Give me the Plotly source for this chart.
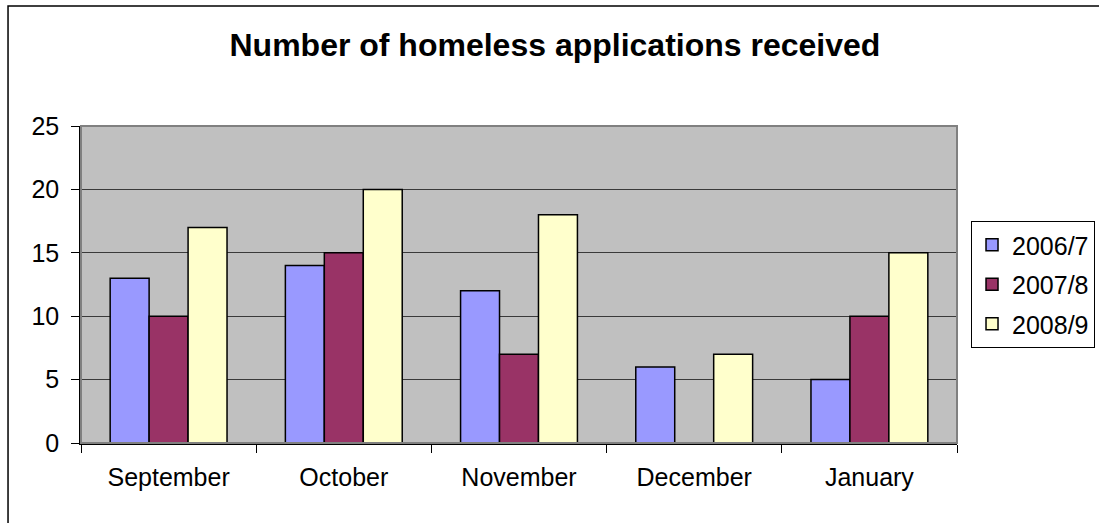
import plotly.graph_objects as go

months = ["September", "October", "November", "December", "January"]
series_names = ["2006/7", "2007/8", "2008/9"]
values_2006_7 = [13, 14, 12, 6, 5]
values_2007_8 = [10, 15, 7, 0, 10]
values_2008_9 = [17, 20, 18, 7, 15]
colors = ["#9999FF", "#993366", "#FFFFCC"]
y_ticks = [0, 5, 10, 15, 20, 25]

FONT = "Liberation Sans, Arial, sans-serif"

fig = go.Figure()
for name, vals, col in zip(series_names, [values_2006_7, values_2007_8, values_2008_9], colors):
    fig.add_trace(go.Bar(
        x=months, y=vals, name=name, legendgroup=name,
        marker=dict(color=col, line=dict(color="black", width=1.5)),
    ))

fig.update_layout(
    width=1099, height=523,
    margin=dict(l=81, r=142, t=126, b=80, autoexpand=False),
    paper_bgcolor="white",
    plot_bgcolor="#C0C0C0",
    barmode="group", bargap=0.333, bargroupgap=0,
    font=dict(family=FONT, size=25, color="black"),
    title=dict(text="<b>Number of homeless applications received</b>",
               font=dict(family=FONT, size=32, color="black"),
               x=0.541, xref="paper", xanchor="center",
               y=0.915, yref="container", yanchor="middle"),
    legend=dict(x=1.016, y=0.70, xanchor="left", yanchor="top",
                bordercolor="black", borderwidth=1, bgcolor="white",
                font=dict(family=FONT, size=25), tracegroupgap=4,
                itemclick=False),
    showlegend=True,
)
fig.update_xaxes(
    showline=True, linecolor="black", linewidth=1.5,
    ticks="outside", tickson="boundaries", ticklen=8, tickcolor="black",
    ticklabelstandoff=11, showgrid=False,
)
fig.update_yaxes(
    range=[0, 25], tickvals=y_ticks, showline=True, linecolor="black", linewidth=1.5,
    ticks="outside", ticklen=8, tickcolor="black",
    showgrid=True, gridcolor="#3a3a3a", gridwidth=1, zeroline=False,
    ticklabelstandoff=7,
)
# plot-area border (gray) and outer chart frame
fig.add_shape(type="rect", xref="paper", yref="paper", x0=0, x1=1, y0=0, y1=1,
              line=dict(color="#808080", width=2), fillcolor="rgba(0,0,0,0)", layer="above")
fig.add_shape(type="rect", xref="paper", yref="paper", x0=-0.0833, x1=1.5, y0=-0.6, y1=1.3785,
              line=dict(color="black", width=1.5), fillcolor="rgba(0,0,0,0)", layer="above")

fig.write_html("out.html", config={"displayModeBar": False},
               post_script="document.body.style.margin='0';document.body.style.overflow='hidden';")
